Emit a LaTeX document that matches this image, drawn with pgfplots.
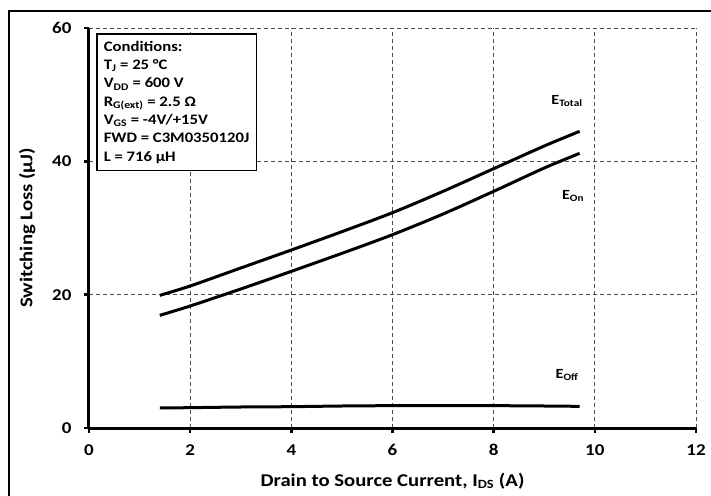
\documentclass[border=0pt]{standalone}
\usepackage{fontspec}
\setmainfont{Carlito}[FakeStretch=1.15]
\usepackage{pgfplots}
\pgfplotsset{compat=1.18}

\begin{document}
\begin{tikzpicture}
\useasboundingbox (-89pt,-67pt) rectangle (622pt,428pt);
% outer frame (only top and left edges visible)
\draw[line width=2.5pt] (-80pt,-70pt) -- (-80pt,417pt) -- (625pt,417pt);

\begin{axis}[
    scale only axis,
    width=607pt, height=400pt,
    at={(0pt,0pt)}, anchor=south west,
    xmin=0, xmax=12, ymin=0, ymax=60,
    xtick={0,2,...,12}, ytick={0,20,40,60},
    axis x line*=bottom, axis y line*=left,
    axis line style={line width=3pt},
    tick align=outside,
    major tick length=5pt,
    tick style={line width=2.5pt, black},
    grid=major,
    major grid style={dashed, gray!60!black, line width=0.9pt, dash pattern=on 4pt off 3pt},
    /pgf/number format/assume math mode=true,
    ticklabel style={font=\fontsize{16.5}{18}\selectfont\bfseries},
    yticklabel style={xshift=-9pt},
    xticklabel style={yshift=-8pt},
    xlabel={Drain to Source Current, I\textsubscript{DS} (A)},
    ylabel={Switching Loss (µJ)},
    label style={font=\fontsize{18}{20}\selectfont\bfseries},
    xlabel style={yshift=-10pt},
    ylabel style={yshift=10pt},
]

% E_Total
\addplot[black, line width=3pt, smooth] coordinates {
(1.4,19.9)(2,21.3)(3,24.0)(4,26.7)(5,29.45)(6,32.3)(7,35.5)(8,38.9)(9,42.3)(9.7,44.5)
};
% E_On
\addplot[black, line width=3pt, smooth] coordinates {
(1.4,16.9)(2,18.3)(3,20.85)(4,23.5)(5,26.2)(6,29.0)(7,32.1)(8,35.5)(9,39.0)(9.7,41.2)
};
% E_Off
\addplot[black, line width=3pt, smooth] coordinates {
(1.4,3.0)(2,3.05)(3,3.15)(4,3.2)(5,3.3)(6,3.35)(7,3.35)(8,3.35)(9,3.3)(9.7,3.25)
};

\node[font=\fontsize{14}{16}\selectfont\bfseries] at (axis cs:9.45,49) {E\textsubscript{Total}};
\node[font=\fontsize{14}{16}\selectfont\bfseries] at (axis cs:9.57,34.8) {E\textsubscript{On}};
\node[font=\fontsize{14}{16}\selectfont\bfseries] at (axis cs:9.45,7.9) {E\textsubscript{Off}};

\node[draw, line width=1.5pt, fill=white, anchor=north west, align=left,
      inner xsep=7pt, inner ysep=7pt,
      font=\fontsize{14.5}{18.3}\selectfont\bfseries]
  at (axis cs:0.14,59.2)
  {Conditions:\\
   T\textsubscript{J} = 25 °C\\
   V\textsubscript{DD} = 600 V\\
   R\textsubscript{G(ext)} = 2.5 Ω\\
   V\textsubscript{GS} = -4V/+15V\\
   FWD = C3M0350120J\\
   L = 716 µH};
\end{axis}
\end{tikzpicture}
\end{document}
